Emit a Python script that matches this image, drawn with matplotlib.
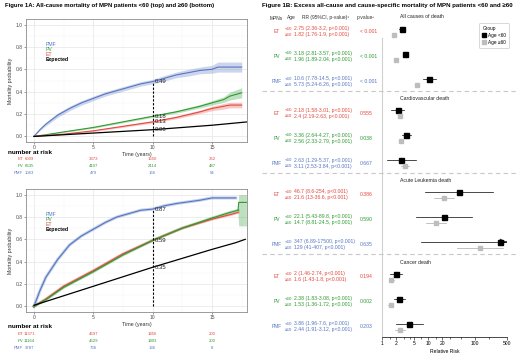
import numpy as np
import matplotlib
matplotlib.use("Agg")
import matplotlib.pyplot as plt
from matplotlib.transforms import blended_transform_factory
from matplotlib.lines import Line2D

plt.rcParams['font.family'] = ['Liberation Sans', 'DejaVu Sans']

RED = "#E4483E"
GREEN = "#2E9A32"
BLUE = "#5676C2"

# ---- Figure 1A data ----
top_t_pmf = [0, 0.5, 1, 2, 3, 4, 5, 6, 7, 8, 9, 10, 11, 12, 13, 14, 15, 15.5, 17.5]
top_pmf = [0, 0.06, 0.11, 0.19, 0.25, 0.30, 0.34, 0.38, 0.41, 0.44, 0.47, 0.49, 0.52, 0.55, 0.57, 0.59, 0.60, 0.62, 0.62]
top_pmf_ci = [0, 0.01, 0.015, 0.02, 0.02, 0.02, 0.02, 0.02, 0.02, 0.02, 0.02, 0.02, 0.025, 0.025, 0.03, 0.03, 0.035, 0.045, 0.045]
top_t = [0, 1, 2.5, 5, 7.5, 10, 12, 14, 15, 16, 16.5, 17.5]
top_pv = [0, 0.015, 0.04, 0.08, 0.13, 0.18, 0.22, 0.27, 0.30, 0.33, 0.36, 0.39]
top_pv_ci = [0, 0.003, 0.005, 0.007, 0.008, 0.01, 0.012, 0.015, 0.02, 0.025, 0.035, 0.045]
top_et = [0, 0.008, 0.02, 0.05, 0.09, 0.13, 0.17, 0.22, 0.25, 0.27, 0.28, 0.28]
top_et_ci = [0, 0.002, 0.004, 0.006, 0.008, 0.01, 0.012, 0.015, 0.02, 0.025, 0.025, 0.025]
top_t_exp = [0, 5, 10, 15, 18]
top_exp = [0, 0.03, 0.06, 0.10, 0.13]

bot_t_pmf = [0, 0.5, 1, 2, 3, 4, 5, 6, 7, 8, 9, 10, 11, 12, 14, 15, 17]
bot_pmf = [0, 0.14, 0.26, 0.42, 0.55, 0.63, 0.69, 0.75, 0.80, 0.83, 0.86, 0.87, 0.90, 0.92, 0.95, 0.97, 0.97]
bot_t = [0, 1, 2.5, 5, 7.5, 10, 12.5, 15, 16.5, 17.2]
bot_pv = [0, 0.06, 0.17, 0.31, 0.46, 0.59, 0.70, 0.79, 0.84, 0.86]
bot_et = [0, 0.065, 0.18, 0.32, 0.47, 0.59, 0.70, 0.78, 0.82, 0.84]
bot_t_pv_end = [17.2, 17.25, 17.9]
bot_pv_end = [0.86, 0.93, 0.93]
bot_pv_end_lo = [0.80, 0.72, 0.72]
bot_pv_end_hi = [0.90, 1.0, 1.0]
bot_t_exp = [0, 5, 10, 15, 17, 17.8]
bot_exp = [0.01, 0.18, 0.35, 0.51, 0.57, 0.60]

risk_times = [0, 5, 10, 15]
top_risk = {"ET": ["6009", "3373", "1650", "362"],
            "PV": ["6635", "4107", "2114", "487"],
            "PMF": ["1063", "479", "166", "54"]}
bot_risk = {"ET": ["11371", "4697", "1456", "200"],
            "PV": ["11164", "4629", "1403", "200"],
            "PMF": ["3787", "736", "136", "8"]}
top_marks = [0.49, 0.18, 0.13, 0.06]
bot_marks = [0.87, 0.59, 0.59, 0.35]

# ---- Figure 1B data ----
causes = ["All causes of death", "Cardiovascular death", "Acute Leukemia death", "Cancer death"]
mpns = ["ET", "PV", "PMF"]
rr_lt60 = [[2.75, 3.18, 10.6], [2.18, 3.36, 2.63], [46.7, 22.1, 347], [2, 2.38, 3.86]]
lo_lt60 = [[2.36, 2.81, 7.78], [1.58, 2.64, 1.29], [8.6, 5.43, 6.89], [1.46, 1.83, 1.96]]
hi_lt60 = [[3.2, 3.57, 14.5], [3.01, 4.27, 5.37], [254, 89.8, 17500], [2.74, 3.08, 7.6]]
rr_ge60 = [[1.82, 1.96, 5.73], [2.4, 2.56, 3.11], [21.6, 14.7, 129], [1.6, 1.53, 2.44]]
lo_ge60 = [[1.76, 1.89, 5.24], [2.19, 2.33, 2.53], [13, 8.81, 41], [1.43, 1.36, 1.91]]
hi_ge60 = [[1.9, 2.04, 6.26], [2.63, 2.79, 3.84], [36.6, 24.5, 407], [1.8, 1.72, 3.12]]
pvals = [["< 0.001", "< 0.001", "< 0.001"], ["0.555", "0.038", "0.667"],
         ["0.386", "0.590", "0.635"], ["0.194", "0.002", "0.203"]]
mpn_colors = [RED, GREEN, BLUE]

W, H = 520, 359
fig = plt.figure(figsize=(W / 100, H / 100), dpi=100)


def fx(px):
    return px / W


def fy(py):
    return 1 - py / H


def km_axes(top_px):
    ax = fig.add_axes([fx(26), fy(top_px + 123), fx(221), 123 / H])
    ax.set_xlim(-0.67, 17.95)
    ax.set_ylim(-0.05, 1.05)
    ax.set_xticks([0, 5, 10, 15])
    ax.set_yticks([0, 0.2, 0.4, 0.6, 0.8, 1.0])
    ax.set_yticklabels(["0.0", "0.2", "0.4", "0.6", "0.8", "1.0"])
    ax.set_xticks([2.5, 7.5, 12.5, 17.5], minor=True)
    ax.set_yticks([0.1, 0.3, 0.5, 0.7, 0.9], minor=True)
    ax.grid(True, which="major", color="#E6E6E6", lw=0.5)
    ax.grid(True, which="minor", color="#F2F2F2", lw=0.3)
    ax.set_axisbelow(True)
    ax.tick_params(which="major", labelsize=3.6, colors="#4D4D4D", length=1.5, width=0.4, pad=1)
    ax.tick_params(which="minor", length=0)
    for s in ax.spines.values():
        s.set_color("#8C8C8C")
        s.set_linewidth(0.6)
    ax.set_ylabel("Mortality probability", fontsize=3.8, color="#333333", labelpad=2)
    ax.set_xlabel("Time (years)", fontsize=3.8, color="#333333", labelpad=1)
    return ax


def legend_text(ax):
    ax.text(1.0, 0.82, "PMF", color=BLUE, fontsize=3.7, va="center")
    ax.text(1.0, 0.775, "PV", color=GREEN, fontsize=3.7, va="center")
    ax.text(1.0, 0.73, "ET", color=RED, fontsize=3.7, va="center")
    ax.text(1.0, 0.685, "Expected", color="black", fontsize=3.7, va="center", fontweight="bold")


def risk_table(ax, risk, y0):
    tr = blended_transform_factory(ax.transData, fig.transFigure)
    fig.text(fx(8), fy(y0), "number at risk", fontsize=4.6, fontweight="bold", va="center")
    for i, (name, col) in enumerate(zip(["ET", "PV", "PMF"], [RED, GREEN, BLUE])):
        yy = fy(y0 + 7 + 7 * i)
        fig.text(fx(23), yy, name, fontsize=3.1, color=col, ha="right", va="center")
        for t, v in zip(risk_times, risk[name]):
            xt = t if t > 0 else -0.4
            fig.text(xt, yy, v, fontsize=3.1, color=col, ha="center", va="center", transform=tr)


fig.text(fx(5), fy(6), "Figure 1A: All-cause mortality of MPN patients <60 (top) and \u226560 (bottom)",
         fontsize=4.3, fontweight="bold", va="center")

# top KM
ax1 = km_axes(19)
ax1.fill_between(top_t_pmf, np.array(top_pmf) - np.array(top_pmf_ci), np.array(top_pmf) + np.array(top_pmf_ci),
                 color=BLUE, alpha=0.3, lw=0)
ax1.fill_between(top_t, np.array(top_pv) - np.array(top_pv_ci), np.array(top_pv) + np.array(top_pv_ci),
                 color=GREEN, alpha=0.3, lw=0)
ax1.fill_between(top_t, np.array(top_et) - np.array(top_et_ci), np.array(top_et) + np.array(top_et_ci),
                 color=RED, alpha=0.3, lw=0)
ax1.plot(top_t_pmf, top_pmf, color=BLUE, lw=0.8)
ax1.plot(top_t, top_pv, color=GREEN, lw=0.8)
ax1.plot(top_t, top_et, color=RED, lw=0.8)
ax1.plot(top_t_exp, top_exp, color="black", lw=0.9)
ax1.plot([10, 10], [0, top_marks[0]], color="black", lw=0.8, ls=(0, (2, 1.5)))
for v in top_marks:
    ax1.text(10.2, v, f"{v:.2f}", fontsize=4.3, color="#222222", va="center")
legend_text(ax1)
risk_table(ax1, top_risk, 152)

# bottom KM
ax2 = km_axes(189)
ax2.plot(bot_t_pmf, bot_pmf, color=BLUE, lw=2.2, alpha=0.35)
ax2.plot(bot_t, bot_et, color=RED, lw=2.0, alpha=0.35)
ax2.plot(bot_t, bot_pv, color=GREEN, lw=2.0, alpha=0.35)
ax2.fill_between(bot_t_pv_end, bot_pv_end_lo, bot_pv_end_hi, color=GREEN, alpha=0.3, lw=0)
ax2.plot(bot_t_pmf, bot_pmf, color=BLUE, lw=0.8)
ax2.plot(bot_t, bot_et, color=RED, lw=0.8)
ax2.plot(bot_t, bot_pv, color=GREEN, lw=0.8)
ax2.plot(bot_t_pv_end, bot_pv_end, color=GREEN, lw=0.8)
ax2.plot(bot_t_exp, bot_exp, color="black", lw=0.9)
ax2.plot([10, 10], [0, bot_marks[0]], color="black", lw=0.8, ls=(0, (2, 1.5)))
for v in sorted(set(bot_marks)):
    ax2.text(10.2, v, f"{v:.2f}", fontsize=4.3, color="#222222", va="center")
legend_text(ax2)
risk_table(ax2, bot_risk, 327)

# ---- Figure 1B forest ----
fig.text(fx(262), fy(6), "Figure 1B: Excess all-cause and cause-specific mortality of MPN patients <60 and \u226560",
         fontsize=4.45, fontweight="bold", va="center")

axf = fig.add_axes([fx(382), fy(337), fx(125), (337 - 12) / H])
axf.set_xscale("log")
axf.set_xlim(1, 500)
axf.set_ylim(337, 12)
for s in ["top", "left", "right"]:
    axf.spines[s].set_visible(False)
axf.spines["bottom"].set_linewidth(0.5)
axf.set_yticks([])
axf.set_xticks([1, 2, 5, 10, 20, 100, 500])
axf.set_xticklabels(["1", "2", "5", "10", "20", "100", "500"])
axf.set_xticks([1.5, 3, 4, 7, 15, 30, 50, 200], minor=True)
axf.xaxis.set_minor_formatter(matplotlib.ticker.NullFormatter())
axf.tick_params(which="major", labelsize=3.6, length=2, width=0.4, pad=1)
axf.tick_params(which="minor", length=1.5, width=0.4)
axf.set_xlabel("Relative Risk", fontsize=3.6, labelpad=2)
axf.plot([1, 1], [38, 337], color="#D0D0D0", lw=0.8, clip_on=False)

tr = blended_transform_factory(fig.transFigure, axf.transData)
hy = 18
fs = 3.7
fig.text(fx(276), fy(hy), "MPNs", fontsize=3.5, ha="center", va="center", color="#333333")
fig.text(fx(287), fy(hy), "Age", fontsize=3.5, va="center", color="#333333")
fig.text(fx(302), fy(hy), "RR (95%CI, p-value)\u00b9", fontsize=3.5, va="center", color="#333333")
fig.text(fx(357), fy(hy), "p-value\u00b2", fontsize=3.5, va="center", color="#333333")

for k, cause in enumerate(causes):
    base = 17 + 81.7 * k
    axf.text(fx(400), base, cause, fontsize=3.7, va="center", transform=tr, color="#222222")
    for j, mpn in enumerate(mpns):
        col = mpn_colors[j]
        y1 = base + 11.5 + 25 * j
        y2 = y1 + 6
        ym = (y1 + y2) / 2
        axf.text(fx(277), ym, mpn, fontsize=3.5, color=col, ha="center", va="center", transform=tr)
        axf.text(fx(285), y1, "<60", fontsize=3.2, color=col, va="center", transform=tr)
        axf.text(fx(285), y2, "\u226560", fontsize=3.2, color=col, va="center", transform=tr)
        axf.text(fx(294), y1, f"{rr_lt60[k][j]:g} ({lo_lt60[k][j]:g}-{hi_lt60[k][j]:g}, p<0.001)",
                 fontsize=fs, color=col, va="center", transform=tr)
        axf.text(fx(294), y2, f"{rr_ge60[k][j]:g} ({lo_ge60[k][j]:g}-{hi_ge60[k][j]:g}, p<0.001)",
                 fontsize=fs, color=col, va="center", transform=tr)
        axf.text(fx(360), ym, pvals[k][j], fontsize=fs, color=col, va="center", transform=tr)
        # CI lines and markers
        hi1 = min(hi_lt60[k][j], 500)
        axf.plot([lo_lt60[k][j], hi1], [y1, y1], color="black", lw=0.5)
        if hi_lt60[k][j] > 500:
            axf.annotate("", xy=(560, y1), xytext=(420, y1),
                         arrowprops=dict(arrowstyle="->", lw=0.6, color="black"), annotation_clip=False)
        axf.plot([lo_ge60[k][j], hi_ge60[k][j]], [y2, y2], color="#A8A8A8", lw=0.5)
        axf.plot(rr_lt60[k][j], y1, marker="s", ms=3.6, color="black", mec="black", clip_on=False)
        axf.plot(rr_ge60[k][j], y2, marker="s", ms=2.8, color="#BDBDBD", mec="#BDBDBD", clip_on=False)
    if k < 3:
        ysep = base + 74
        axf.plot([fx(262), fx(516)], [ysep, ysep], color="#C8C8C8", lw=0.8, ls=(0, (4, 3)),
                 transform=tr, clip_on=False)

handles = [Line2D([], [], marker="s", ls="", color="black", ms=3, label="Age <60"),
           Line2D([], [], marker="s", ls="", color="#BDBDBD", ms=3, label="Age \u226560")]
leg = fig.legend(handles=handles, title="Group", loc="upper right", bbox_to_anchor=(fx(511), fy(21)),
                 fontsize=3.4, title_fontsize=3.4, frameon=True, handlelength=0.8, handletextpad=0.4,
                 borderpad=0.6, labelspacing=0.4, fancybox=True)
leg._legend_box.align = "left"
leg.get_frame().set_linewidth(0.4)
leg.get_frame().set_edgecolor("#AAAAAA")

fig.savefig("out.png", dpi=100)
